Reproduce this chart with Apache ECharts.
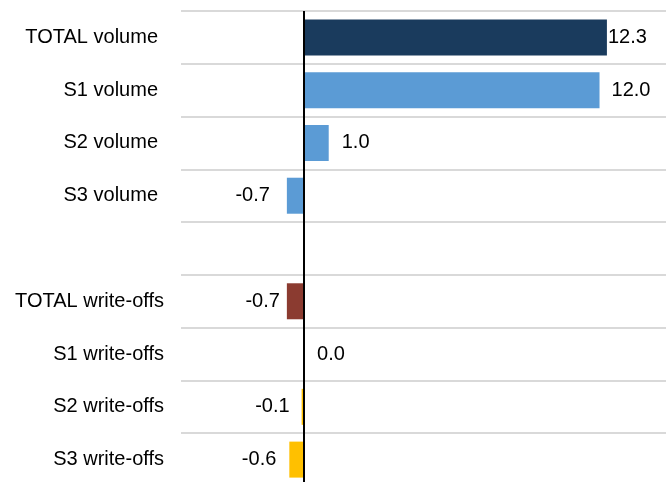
<!DOCTYPE html>
<html>
<head>
<meta charset="utf-8">
<script src="https://cdn.jsdelivr.net/npm/echarts@6/dist/echarts.min.js"></script>
<style>
  html, body { margin: 0; padding: 0; background: #fff; overflow: hidden; }
  /* the last row runs slightly past the bottom of the window */
  #chart { width: 666px; height: 486px; }
</style>
</head>
<body>
<div id="chart"></div>
<script>
// Change breakdown: volume and write-offs by segment
const categories = [
  'TOTAL volume', 'S1 volume', 'S2 volume', 'S3 volume', '',
  'TOTAL write-offs', 'S1 write-offs', 'S2 write-offs', 'S3 write-offs'
];
const values = [12.3, 12.0, 1.0, -0.7, null, -0.7, 0.0, -0.1, -0.6];

// Styling per row
const barColors = ['#1a3b5d', '#5b9bd5', '#5b9bd5', '#5b9bd5', '#ffffff',
                   '#8b3b30', '#ffc000', '#ffc000', '#ffc000'];
const labelGaps = [1, 12, 13, 17, 0, 7, 13, 12, 13];

const FONT = '"Liberation Sans", Arial, sans-serif';
const FONT_SIZE = 20;

const barData = values.map((v, i) => {
  if (v === null) return { value: null };
  return {
    value: v,
    itemStyle: { color: barColors[i] },
    label: {
      show: true,
      position: v < 0 ? 'left' : 'right',
      distance: labelGaps[i]
    }
  };
});

const chart = echarts.init(document.getElementById('chart'), null, { renderer: 'canvas' });
chart.setOption({
  animation: false,
  backgroundColor: '#ffffff',
  grid: { left: 181, right: 0, top: 11, bottom: 0, containLabel: false },
  xAxis: {
    type: 'value',
    min: -5,
    max: 14.7,
    show: false,
    splitLine: { show: false }
  },
  yAxis: {
    type: 'category',
    data: categories,
    inverse: true,
    axisLine: { show: false },
    axisTick: { show: false },
    splitLine: { show: true, lineStyle: { color: '#d9d9d9', width: 2 } },
    axisLabel: {
      margin: 17,
      color: '#000',
      fontFamily: FONT,
      fontSize: FONT_SIZE,
      formatter: (v) => v.indexOf('volume') >= 0 ? '{v|' + v + '}' : v,
      rich: {
        v: { color: '#000', fontFamily: FONT, fontSize: FONT_SIZE, padding: [0, 6, 0, 0] }
      }
    }
  },
  series: [{
    type: 'bar',
    data: barData,
    barWidth: 36,
    label: {
      color: '#000',
      fontFamily: FONT,
      fontSize: FONT_SIZE,
      formatter: (p) => p.value.toFixed(1)
    },
    markLine: {
      silent: true,
      symbol: ['none', 'none'],
      label: { show: false },
      lineStyle: { color: '#000', width: 2, type: 'solid' },
      data: [{ xAxis: 0 }]
    }
  }]
});
</script>
</body>
</html>
